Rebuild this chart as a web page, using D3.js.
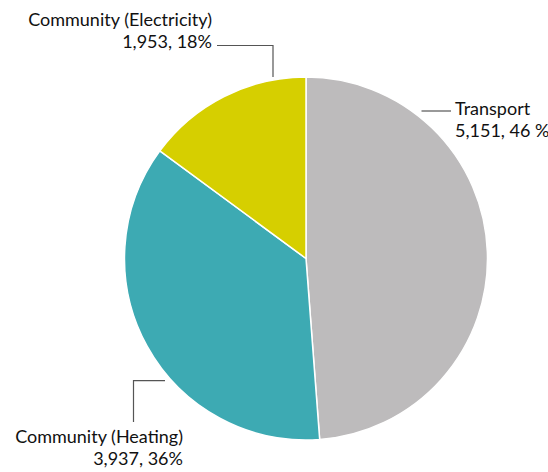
<!DOCTYPE html>
<html><head><meta charset="utf-8">
<script src="https://cdn.jsdelivr.net/npm/d3@7"></script>
<style>html,body{margin:0;padding:0;background:#fff;}svg{display:block;}</style>
</head><body>
<svg id="chart" width="548" height="472"></svg>
<script>
// Data
const categories = ["Transport", "Community (Heating)", "Community (Electricity)"];
const labelValues = ["5,151, 46 %", "3,937, 36%", "1,953, 18%"];
// slice shares as drawn in the picture (percent of the circle)
const sliceShares = [48.8, 36.3, 14.9];
const colors = ["#bdbbbc", "#3daab3", "#d6cf00"];

const W = 548, H = 472;
const cx = 306, cy = 258.5, R = 181.5;
const svg = d3.select("#chart");
const FONT = "Lato, 'Open Sans', sans-serif";
const fs = 18;

const pie = d3.pie().sort(null).value(d => d)(sliceShares);
const arc = d3.arc().innerRadius(0).outerRadius(R);
const g = svg.append("g").attr("transform", `translate(${cx},${cy})`);
g.selectAll("path").data(pie).join("path")
  .attr("d", arc).attr("fill", (d,i) => colors[i])
  .attr("stroke", "#fff").attr("stroke-width", 1.5).attr("stroke-linejoin", "round");

// label layout: [textX, baseline1, anchor, leader polyline]
const layout = [
  {x: 455, y: 115, anchor: "start", line: [[421.5,111],[451,111]]},
  {x: 183, y: 443, anchor: "end", line: [[165,380.7],[133.5,380.7],[133.5,422]]},
  {x: 212, y: 26, anchor: "end", line: [[217,45.5],[273,45.5],[273,77]]}
];
const lh = 22.3;
categories.forEach((c, i) => {
  const L = layout[i];
  svg.append("polyline").attr("points", L.line.map(p => p.join(",")).join(" "))
    .attr("fill", "none").attr("stroke", "#555").attr("stroke-width", 1.2);
  const t = svg.append("text").attr("font-family", FONT).attr("font-size", fs)
    .attr("fill", "#111").attr("text-anchor", L.anchor);
  t.append("tspan").attr("x", L.x).attr("y", L.y).text(c);
  t.append("tspan").attr("x", L.x).attr("y", L.y + lh).text(labelValues[i]);
});
</script>
</body></html>
